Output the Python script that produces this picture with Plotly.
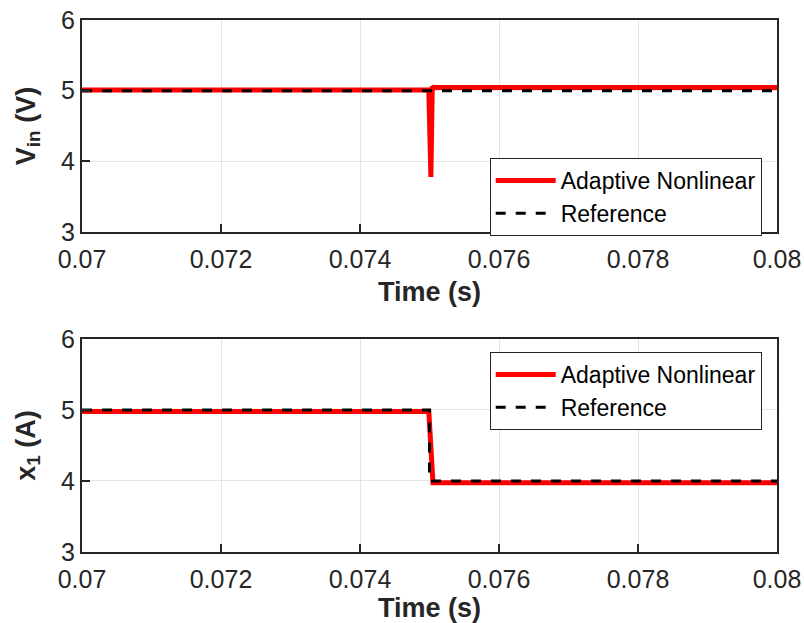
import plotly.graph_objects as go
from plotly.subplots import make_subplots

# Top panel: input voltage
t_vin = [0.07, 0.07499, 0.07502, 0.07504, 0.07506, 0.08]
vin_adaptive = [5.01, 5.01, 3.78, 5.06, 5.045, 5.045]
t_vin_ref = [0.07, 0.08]
vin_ref = [5.0, 5.0]

# Bottom panel: inductor current x1
t_x1 = [0.07, 0.07499, 0.07505, 0.08]
x1_adaptive = [4.98, 4.98, 3.975, 3.975]
t_x1_ref = [0.07, 0.075, 0.075, 0.08]
x1_ref = [5.0, 5.0, 4.0, 4.0]

x_ticks = [0.07, 0.072, 0.074, 0.076, 0.078, 0.08]
x_ticklabels = ["0.07", "0.072", "0.074", "0.076", "0.078", "0.08"]
y_ticks = [3, 4, 5, 6]

FONT = "Liberation Sans, Arial, sans-serif"
RED = "#ff0000"
DARK = "#262626"

fig = make_subplots(rows=2, cols=1, vertical_spacing=0.2)

fig.add_trace(go.Scatter(x=t_vin, y=vin_adaptive, mode="lines", name="Adaptive Nonlinear",
                         line=dict(color=RED, width=5), legend="legend"), row=1, col=1)
fig.add_trace(go.Scatter(x=t_vin_ref, y=vin_ref, mode="lines", name="Reference",
                         line=dict(color="black", width=3, dash="10px,10px"), legend="legend"), row=1, col=1)
fig.add_trace(go.Scatter(x=t_x1, y=x1_adaptive, mode="lines", name="Adaptive Nonlinear",
                         line=dict(color=RED, width=5), legend="legend2"), row=2, col=1)
fig.add_trace(go.Scatter(x=t_x1_ref, y=x1_ref, mode="lines", name="Reference",
                         line=dict(color="black", width=3, dash="10px,10px"), legend="legend2"), row=2, col=1)

axis_common = dict(
    showline=True, mirror=True, linecolor=DARK, linewidth=2,
    ticks="inside", ticklen=8, tickwidth=1.5, tickcolor=DARK,
    showgrid=True, gridcolor="#e3e3e3", gridwidth=1,
    zeroline=False, automargin=False,
    tickfont=dict(family=FONT, size=25, color=DARK),
)

for r in (1, 2):
    fig.update_xaxes(range=[0.07, 0.08], tickvals=x_ticks, ticktext=x_ticklabels,
                     ticklabelstandoff=4,
                     title=dict(text="<b>Time (s)</b>", font=dict(family=FONT, size=27, color=DARK),
                                standoff=10),
                     row=r, col=1, **axis_common)
    fig.update_yaxes(range=[3, 6], tickvals=y_ticks, row=r, col=1, **axis_common)

fig.update_yaxes(title=dict(text="<b>V<sub>in</sub> (V)</b>", font=dict(family=FONT, size=27, color=DARK),
                            standoff=18), row=1, col=1)
fig.update_yaxes(title=dict(text="<b>x<sub>1</sub> (A)</b>", font=dict(family=FONT, size=27, color=DARK),
                            standoff=18), row=2, col=1)

# domains to match the reference layout
fig.update_layout(
    xaxis=dict(domain=[0, 1]), xaxis2=dict(domain=[0, 1]),
    yaxis=dict(domain=[0.6015, 1.0]), yaxis2=dict(domain=[0.0, 0.4004]),
)

legend_common = dict(
    bgcolor="white", bordercolor=DARK, borderwidth=1,
    font=dict(family=FONT, size=23, color="black"),
    xanchor="right", yanchor="top", tracegroupgap=0, itemwidth=60,
)

fig.update_layout(
    width=804, height=623,
    margin=dict(l=82, r=27, t=20, b=71),
    paper_bgcolor="white", plot_bgcolor="white",
    legend=dict(x=0.978, y=0.7406, **legend_common),
    legend2=dict(x=0.978, y=0.376, **legend_common),
    showlegend=True,
)

fig.write_html("out.html")
